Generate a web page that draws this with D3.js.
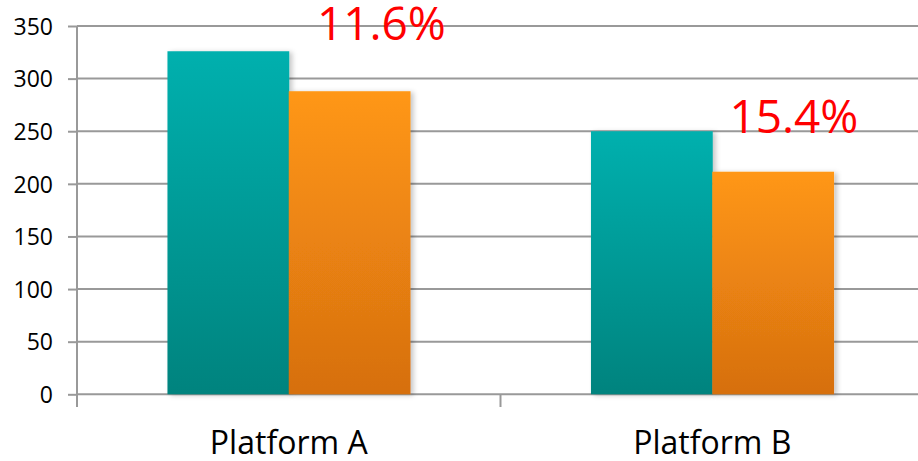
<!DOCTYPE html>
<html>
<head>
<meta charset="utf-8">
<script src="https://cdn.jsdelivr.net/npm/d3@7"></script>
<style>
  html, body { margin: 0; padding: 0; background: #fff; }
  svg { display: block; }
</style>
</head>
<body>
<svg id="chart" width="918" height="461"></svg>
<script>
// Chart data
const categories = ["Platform A", "Platform B"];
const seriesNames = ["Before", "After"];
const beforeValues = [326, 250];
const afterValues = [288, 211.5];
const dropLabels = ["11.6%", "15.4%"];
const yTicks = [0, 50, 100, 150, 200, 250, 300, 350];

const W = 918, H = 461;
const margin = { left: 77, top: 26, bottom: 66 };
const plotW = 847;           // the last band runs slightly past the right edge
const y0 = H - margin.bottom;

const svg = d3.select("#chart");

const x = d3.scaleBand().domain(categories).range([margin.left, margin.left + plotW])
  .paddingInner(0.4272).paddingOuter(0.2136);
const xs = d3.scaleBand().domain(seriesNames).range([0, x.bandwidth()]);
const y = d3.scaleLinear().domain([0, 350]).range([y0 - 0.7, margin.top]);

const defs = svg.append("defs");
function grad(id, top, bottom) {
  const g = defs.append("linearGradient").attr("id", id)
    .attr("x1", 0).attr("y1", 0).attr("x2", 0).attr("y2", 1);
  g.append("stop").attr("offset", "0%").attr("stop-color", top);
  g.append("stop").attr("offset", "100%").attr("stop-color", bottom);
}
grad("gTeal", "#00B0AE", "#00837E");
grad("gOrange", "#FF9714", "#D66F10");
const f = defs.append("filter").attr("id", "shadow")
  .attr("x", "-10%").attr("y", "-10%").attr("width", "130%").attr("height", "120%");
f.append("feDropShadow").attr("dx", 3).attr("dy", 1).attr("stdDeviation", 2.5)
  .attr("flood-color", "#000").attr("flood-opacity", 0.22);

// Gridlines + y axis ticks
const yAxis = d3.axisLeft(y).tickValues(yTicks).tickSize(9).tickPadding(15);
const yg = svg.append("g").attr("transform", `translate(${margin.left},0)`).call(yAxis);
yg.select(".domain").remove();
yg.selectAll(".tick line").attr("stroke", "#999").attr("stroke-width", 2);
yg.selectAll(".tick text")
  .attr("fill", "#000").attr("font-family", "'Open Sans', sans-serif").attr("font-size", 23)
  .attr("dy", "0.36em");

svg.append("g").selectAll("line").data(yTicks).join("line")
  .attr("x1", margin.left).attr("x2", W)
  .attr("y1", d => y(d)).attr("y2", d => y(d))
  .attr("stroke", "#999").attr("stroke-width", 2);

// Bars
const rows = categories.map((c, i) => ({ cat: c, vals: [beforeValues[i], afterValues[i]] }));
const fills = ["url(#gTeal)", "url(#gOrange)"];
const groups = svg.append("g").selectAll("g").data(rows).join("g")
  .attr("transform", d => `translate(${x(d.cat)},0)`);
groups.selectAll("rect")
  .data(d => d.vals.map((v, k) => ({ name: seriesNames[k], v, k })))
  .join("rect")
  .attr("x", d => xs(d.name))
  .attr("width", xs.bandwidth() + 0.5)
  .attr("y", d => y(d.v))
  .attr("height", d => y(0) - y(d.v))
  .attr("fill", d => fills[d.k])
  .attr("filter", "url(#shadow)");

// Vertical axis line
svg.append("line")
  .attr("x1", margin.left).attr("x2", margin.left)
  .attr("y1", margin.top).attr("y2", y0 + 12)
  .attr("stroke", "#999").attr("stroke-width", 2);

// Category axis
const xAxis = d3.axisBottom(x).tickSize(0).tickPadding(36);
const xg = svg.append("g").attr("transform", `translate(0,${y0})`).call(xAxis);
xg.select(".domain").remove();
xg.selectAll(".tick text")
  .attr("fill", "#000").attr("font-family", "'Open Sans', sans-serif").attr("font-size", 32)
  .attr("dy", "0.71em");
// Category boundary ticks
const bounds = [margin.left, margin.left + x.step()];
svg.append("g").selectAll("line").data(bounds.slice(1)).join("line")
  .attr("x1", d => d).attr("x2", d => d)
  .attr("y1", y0).attr("y2", y0 + 12)
  .attr("stroke", "#999").attr("stroke-width", 2);

// Percentage drop labels above the second bar of each category
const nudges = [[32, -51], [21, -39]];
svg.append("g").selectAll("text").data(rows).join("text")
  .attr("x", (d, i) => x(d.cat) + xs(seriesNames[1]) + xs.bandwidth() / 2 + nudges[i][0])
  .attr("y", (d, i) => y(d.vals[1]) + nudges[i][1])
  .attr("text-anchor", "middle")
  .attr("fill", "#FF0000")
  .attr("font-family", "'Open Sans', sans-serif")
  .attr("font-size", 46)
  .text((d, i) => dropLabels[i]);
</script>
</body>
</html>
